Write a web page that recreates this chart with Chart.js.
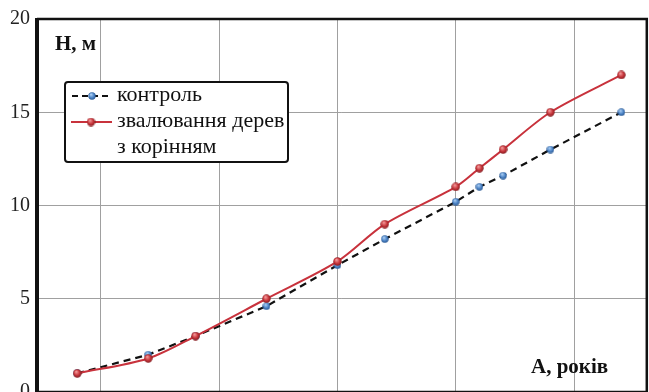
<!DOCTYPE html>
<html lang="uk">
<head>
  <title>Висота дерев</title>
  <script type="text/javascript" src="https://cdn.jsdelivr.net/npm/chart.js"></script>
  <style>
    html, body { margin: 0; padding: 0; background: #fff; overflow: hidden; }
    #wrap { width: 653px; height: 411px; }
  </style>
</head>
<body>
<div id="wrap"><canvas id="c"></canvas></div>

<script>
  // Age, years
  const ages = [16, 28, 36, 48, 60, 68, 80, 84, 88, 96, 108];
  // Height, m
  const control = [1.0, 2.0, 3.0, 4.6, 6.8, 8.2, 10.2, 11.0, 11.6, 13.0, 15.0];
  const felled = [1.0, 1.8, 3.0, 5.0, 7.0, 9.0, 11.0, 12.0, 13.0, 15.0, 17.0];
  const yTicks = [0, 5, 10, 15, 20];
  const xGrid = [20, 40, 60, 80, 100];
  const seriesNames = ['контроль', 'звалювання дерев з корінням'];

  const serif = '"Liberation Serif", "DejaVu Serif", serif';

  // glossy ball marker like the spreadsheet one
  function makeBall(r, light, base, dark) {
    const cv = document.createElement('canvas');
    cv.width = cv.height = Math.round(r * 2);
    const g = cv.getContext('2d');
    const grad = g.createRadialGradient(r * 0.75, r * 0.6, r * 0.1, r, r, r);
    grad.addColorStop(0, light);
    grad.addColorStop(0.55, base);
    grad.addColorStop(1, dark);
    g.fillStyle = grad;
    g.beginPath();
    g.arc(r, r, r - 0.3, 0, Math.PI * 2);
    g.fill();
    return cv;
  }
  const blueBall = makeBall(4, '#a9cdf2', '#4f86c8', '#24528c');
  const redBall = makeBall(4.5, '#f29a9a', '#c9373d', '#7e1a1e');

  const pts = arr => ages.map((a, i) => ({ x: a, y: arr[i] }));

  const overlay = {
    id: 'overlay',
    afterDraw(chart) {
      const ctx = chart.ctx;
      const a = chart.chartArea;
      ctx.save();
      // frame
      ctx.strokeStyle = '#111';
      ctx.lineWidth = 2.5;
      ctx.beginPath();
      ctx.moveTo(a.left, a.top);
      ctx.lineTo(a.right, a.top);
      ctx.lineTo(a.right, a.bottom);
      ctx.lineTo(a.left, a.bottom);
      ctx.stroke();
      ctx.lineWidth = 4;
      ctx.beginPath();
      ctx.moveTo(a.left, a.top - 1);
      ctx.lineTo(a.left, a.bottom + 1);
      ctx.stroke();

      // axis titles inside the plot
      ctx.fillStyle = '#111';
      ctx.font = 'bold 21px ' + serif;
      ctx.textBaseline = 'middle';
      ctx.textAlign = 'left';
      ctx.fillText('H, м', 55, 45);
      ctx.fillText('A, років', 531, 368);

      // legend box
      const bx = 65, by = 82, bw = 223, bh = 80;
      ctx.fillStyle = '#fff';
      ctx.strokeStyle = '#111';
      ctx.lineWidth = 2;
      ctx.beginPath();
      ctx.roundRect(bx, by, bw, bh, 3);
      ctx.fill();
      ctx.stroke();

      // control sample
      ctx.strokeStyle = '#111';
      ctx.lineWidth = 2;
      ctx.setLineDash([6, 4]);
      ctx.beginPath();
      ctx.moveTo(72, 96);
      ctx.lineTo(112, 96);
      ctx.stroke();
      ctx.setLineDash([]);
      ctx.drawImage(blueBall, 92 - 4, 96 - 4);

      // felled sample
      ctx.strokeStyle = '#c8323c';
      ctx.lineWidth = 2;
      ctx.beginPath();
      ctx.moveTo(71, 122);
      ctx.lineTo(112, 122);
      ctx.stroke();
      ctx.drawImage(redBall, 91 - 4.5, 122 - 4.5);

      ctx.fillStyle = '#111';
      ctx.font = '22px ' + serif;
      ctx.fillText(seriesNames[0], 117, 95);
      ctx.fillText('звалювання дерев', 117, 121);
      ctx.fillText('з корінням', 117, 147);
      ctx.restore();
    }
  };

  new Chart(document.getElementById('c'), {
    type: 'line',
    data: {
      datasets: [
        {
          label: seriesNames[0],
          data: pts(control),
          borderColor: '#111',
          borderWidth: 2.2,
          borderDash: [7, 5],
          tension: 0,
          pointStyle: blueBall,
          order: 2
        },
        {
          label: seriesNames[1],
          data: pts(felled),
          borderColor: '#c8323c',
          borderWidth: 2,
          tension: 0.3,
          pointStyle: redBall,
          order: 1
        }
      ]
    },
    options: {
      responsive: true,
      maintainAspectRatio: false,
      animation: false,
      layout: { padding: { top: 19, right: 2, bottom: 15, left: 0 } },
      plugins: { legend: { display: false }, tooltip: { enabled: false } },
      scales: {
        x: {
          type: 'linear',
          min: 9.2,
          max: 112.3,
          afterBuildTicks: s => { s.ticks = xGrid.map(v => ({ value: v })); },
          ticks: { display: false },
          grid: { color: '#a0a0a0', lineWidth: 1, drawTicks: false },
          border: { display: false }
        },
        y: {
          min: 0,
          max: 20,
          afterBuildTicks: s => { s.ticks = yTicks.map(v => ({ value: v })); },
          afterFit: s => { s.width = 37; },
          ticks: { color: '#222', font: { family: serif, size: 20 }, padding: 7 },
          grid: { color: '#a0a0a0', lineWidth: 1, drawTicks: false },
          border: { display: false }
        }
      }
    },
    plugins: [overlay]
  });
</script>
</body>
</html>
